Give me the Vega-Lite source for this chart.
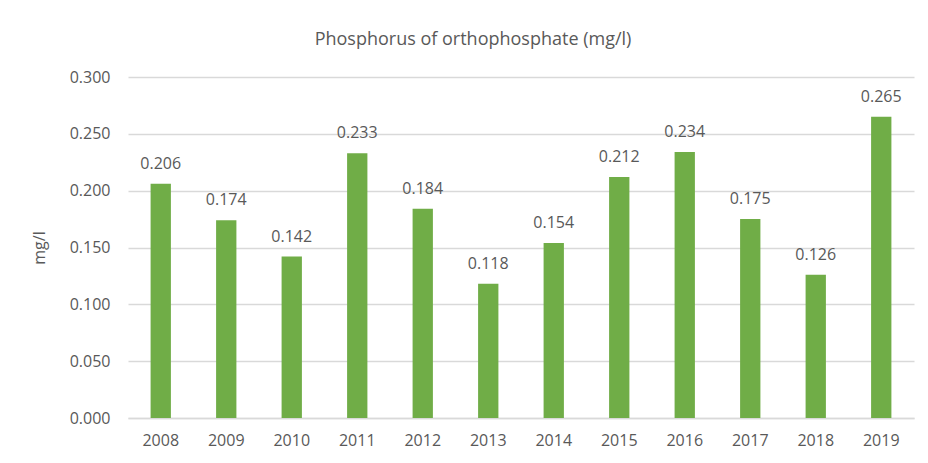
{
  "$schema": "https://vega.github.io/schema/vega-lite/v6.json",
  "width": 786,
  "height": 341,
  "autosize": {"type": "none"},
  "padding": {"left": 128, "top": 77, "right": 14, "bottom": 45},
  "background": "white",
  "config": {
    "view": {"stroke": null},
    "font": "Open Sans"
  },
  "title": {
    "text": "Phosphorus of orthophosphate (mg/l)",
    "fontSize": 18,
    "fontWeight": "normal",
    "color": "#595959",
    "font": "Open Sans",
    "anchor": "middle",
    "dx": -48,
    "offset": 20
  },
  "data": {
    "values": [
      {"year": "2008", "value": 0.206},
      {"year": "2009", "value": 0.174},
      {"year": "2010", "value": 0.142},
      {"year": "2011", "value": 0.233},
      {"year": "2012", "value": 0.184},
      {"year": "2013", "value": 0.118},
      {"year": "2014", "value": 0.154},
      {"year": "2015", "value": 0.212},
      {"year": "2016", "value": 0.234},
      {"year": "2017", "value": 0.175},
      {"year": "2018", "value": 0.126},
      {"year": "2019", "value": 0.265}
    ]
  },
  "encoding": {
    "x": {
      "field": "year",
      "type": "ordinal",
      "scale": {"paddingInner": 0.69, "paddingOuter": 0.345},
      "axis": {
        "title": null,
        "labelAngle": 0,
        "labelFontSize": 16,
        "labelColor": "#595959",
        "labelPadding": 14,
        "ticks": false,
        "domainColor": "#d9d9d9",
        "domainWidth": 1.5
      }
    },
    "y": {
      "field": "value",
      "type": "quantitative",
      "scale": {"domain": [0, 0.3]},
      "axis": {
        "title": "mg/l",
        "titleFontSize": 16,
        "titleFontWeight": "normal",
        "titleColor": "#595959",
        "titlePadding": 22,
        "values": [0, 0.05, 0.1, 0.15, 0.2, 0.25, 0.3],
        "format": ".3f",
        "labelFontSize": 16,
        "labelColor": "#595959",
        "labelPadding": 18,
        "ticks": false,
        "domain": false,
        "gridColor": "#d9d9d9",
        "gridWidth": 1.5
      }
    }
  },
  "layer": [
    {"mark": {"type": "bar", "color": "#70AD47"}},
    {
      "mark": {"type": "text", "baseline": "bottom", "dy": -12, "fontSize": 16, "color": "#595959"},
      "encoding": {"text": {"field": "value", "type": "quantitative", "format": ".3f"}}
    }
  ]
}
